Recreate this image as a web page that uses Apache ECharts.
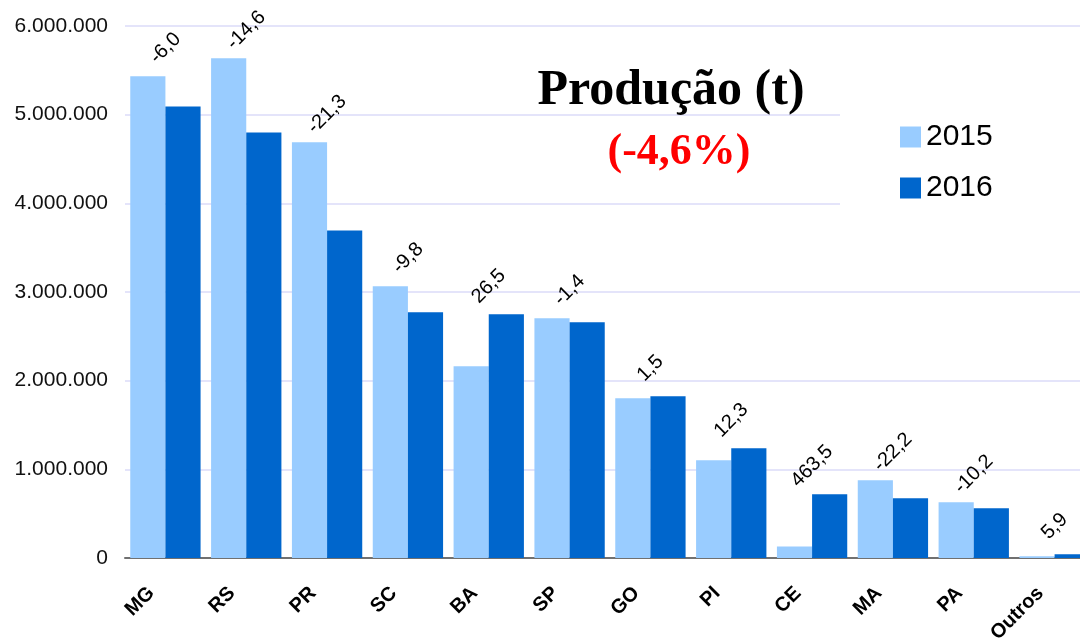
<!DOCTYPE html>
<html>
<head>
<meta charset="utf-8">
<script src="https://cdn.jsdelivr.net/npm/echarts@6/dist/echarts.min.js"></script>
<style>
html,body{margin:0;padding:0;background:#fff;}
#c{width:1080px;height:642px;}
</style>
</head>
<body>
<div id="c"></div>
<script>
const categories = ['MG','RS','PR','SC','BA','SP','GO','PI','CE','MA','PA','Outros'];
const v2015 = [5433000, 5636000, 4688000, 3066000, 2162000, 2705000, 1802000, 1102000, 130000, 877000, 628000, 20000];
const v2016 = [5093000, 4800000, 3694000, 2771000, 2749000, 2660000, 1824000, 1238000, 719000, 674000, 561000, 42000];
const changes = ['-6,0','-14,6','-21,3','-9,8','26,5','-1,4','1,5','12,3','463,5','-22,2','-10,2','5,9'];
const yTicks = [0, 1000000, 2000000, 3000000, 4000000, 5000000, 6000000];

const fmt = v => String(v).replace(/\B(?=(\d{3})+(?!\d))/g, '.');
const labelAnchor = categories.map((c, i) => [i, Math.max(v2015[i], v2016[i]), changes[i]]);

const chart = echarts.init(document.getElementById('c'), null, {renderer: 'canvas'});
chart.setOption({
  animation: false,
  backgroundColor: '#ffffff',
  title: [
    {text: 'Produção (t)', left: 666, top: 61, textAlign: 'center',
     textStyle: {fontFamily: 'Liberation Serif', fontWeight: 'bold', fontSize: 50, color: '#000'}},
    {text: '(-4,6%)', left: 674, top: 126, textAlign: 'center',
     textStyle: {fontFamily: 'Liberation Serif', fontWeight: 'bold', fontSize: 44, color: '#ff0000'}}
  ],
  legend: {
    orient: 'vertical', left: 840, top: 106,
    padding: [16, 140, 12, 60],
    backgroundColor: '#ffffff',
    icon: 'rect',
    itemWidth: 21, itemHeight: 21, itemGap: 21,
    textStyle: {fontFamily: 'Liberation Sans', fontSize: 30, lineHeight: 30, color: '#000'},
    data: ['2015', '2016']
  },
  grid: {left: 125, right: -15, top: 26, bottom: 84, containLabel: false, outerBoundsMode: 'none'},
  xAxis: {
    type: 'category', data: categories,
    axisLine: {show: true, lineStyle: {color: '#707070', width: 2}},
    axisTick: {show: false},
    axisLabel: {rotate: 45, margin: 18, interval: 0, padding: [0, 20, 0, 0],
      fontFamily: 'Liberation Sans', fontWeight: 'bold', fontSize: 20, color: '#000'}
  },
  yAxis: {
    type: 'value', min: yTicks[0], max: yTicks[yTicks.length - 1], interval: 1000000,
    axisLine: {show: false}, axisTick: {show: false},
    splitLine: {lineStyle: {color: '#e4e4fa', width: 2}},
    axisLabel: {margin: 17, fontFamily: 'Liberation Sans', fontSize: 21, color: '#111', formatter: fmt}
  },
  series: [
    {name: '2015', type: 'bar', data: v2015, barGap: '0%', barCategoryGap: '13%',
     itemStyle: {color: '#99ccff'}},
    {name: '2016', type: 'bar', data: v2016, barGap: '0%', barCategoryGap: '13%',
     itemStyle: {color: '#0066cc'}},
    {name: 'var', type: 'custom', data: labelAnchor, z: 10,
     renderItem: function (params, api) {
       const p = api.coord([api.value(0), api.value(1)]);
       return {type: 'text', x: p[0], y: p[1] - 28, rotation: Math.PI / 4,
         style: {text: changes[params.dataIndex], fontFamily: 'Liberation Sans', fontSize: 20,
           fill: '#000', align: 'center', verticalAlign: 'middle'}};
     }}
  ]
});
</script>
</body>
</html>
